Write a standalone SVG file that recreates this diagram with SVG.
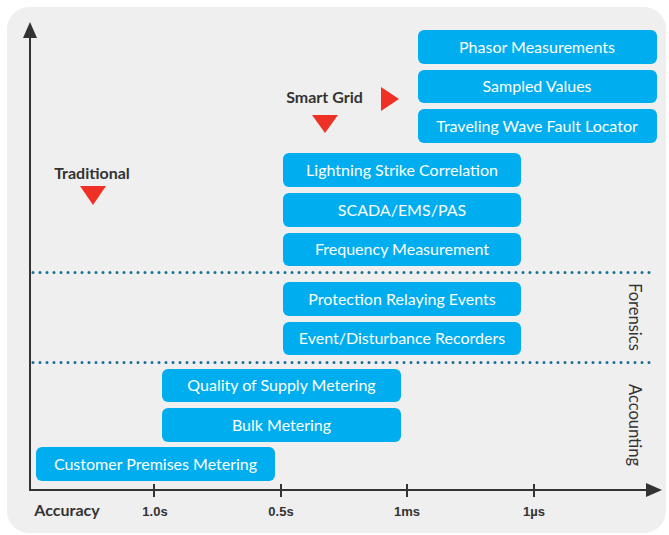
<svg xmlns="http://www.w3.org/2000/svg" width="669" height="535" viewBox="0 0 669 535">
<style>
.box{fill:#00aeef}
.bt{font-family:Lato,"Open Sans",sans-serif;font-size:16px;fill:#ffffff;text-anchor:middle}
.lbl{font-family:Lato,"Liberation Sans",sans-serif;font-weight:bold;fill:#333333;text-anchor:middle}
.tick{font-family:"Liberation Sans",Arial,sans-serif;font-weight:bold;font-size:13px;fill:#333333;text-anchor:middle}
.ax{stroke:#333333;stroke-width:2;fill:none}
.dot{stroke:#1a6e96;stroke-width:3;stroke-linecap:round;stroke-dasharray:0 7;fill:none}
.tri{fill:#ee3124}
.side{font-family:Lato,"Liberation Sans",sans-serif;font-size:16.5px;fill:#333333;text-anchor:middle}
</style>
<rect x="7" y="7" width="659" height="526" rx="22" fill="#efefef"/>
<g id="connectors">
<path class="ax" d="M30,490 V38"/>
<path d="M30,22 L37,38 L23,38 Z" fill="#333333"/>
<path class="ax" d="M29,490 H646"/>
<path d="M662,490 L646,483 L646,497 Z" fill="#333333"/>
<path class="ax" d="M154,484 V497 M281,484 V497 M407,484 V497 M534,484 V497"/>
<path class="dot" d="M33,272.5 H650"/>
<path class="dot" d="M33,362.5 H650"/>
</g>
<g id="axis-labels">
<text class="lbl" x="67" y="516" font-size="16">Accuracy</text>
<text class="tick" x="155" y="516">1.0s</text>
<text class="tick" x="281" y="516">0.5s</text>
<text class="tick" x="407" y="516">1ms</text>
<text class="tick" x="534" y="516">1µs</text>
</g>
<g id="traditional">
<text class="lbl" x="92" y="179" font-size="16">Traditional</text>
<path class="tri" d="M80,186 L106,186 L93,205 Z"/>
</g>
<g id="smart-grid">
<text class="lbl" x="324.5" y="103" font-size="16">Smart Grid</text>
<path class="tri" d="M312,115 L338,115 L325,133 Z"/>
<path class="tri" d="M381,87 L399,99 L381,111 Z"/>
</g>
<g id="n-phasor"><rect class="box" x="418" y="30" width="239" height="34" rx="6"/><text class="bt" x="537" y="52.5">Phasor Measurements</text></g>
<g id="n-sampled"><rect class="box" x="418" y="70" width="239" height="33" rx="6"/><text class="bt" x="537" y="92">Sampled Values</text></g>
<g id="n-traveling"><rect class="box" x="418" y="109" width="239" height="34" rx="6"/><text class="bt" x="537" y="131.5">Traveling Wave Fault Locator</text></g>
<g id="n-lightning"><rect class="box" x="283" y="153" width="238" height="34" rx="6"/><text class="bt" x="402" y="175.5">Lightning Strike Correlation</text></g>
<g id="n-scada"><rect class="box" x="283" y="193" width="238" height="34" rx="6"/><text class="bt" x="402" y="215.5">SCADA/EMS/PAS</text></g>
<g id="n-frequency"><rect class="box" x="283" y="233" width="238" height="33" rx="6"/><text class="bt" x="402" y="255">Frequency Measurement</text></g>
<g id="n-protection"><rect class="box" x="283" y="282" width="238" height="34" rx="6"/><text class="bt" x="402" y="304.5">Protection Relaying Events</text></g>
<g id="n-event"><rect class="box" x="283" y="322" width="238" height="33" rx="6"/><text class="bt" x="402" y="344">Event/Disturbance Recorders</text></g>
<g id="n-quality"><rect class="box" x="162" y="369" width="239" height="33" rx="6"/><text class="bt" x="281.5" y="391">Quality of Supply Metering</text></g>
<g id="n-bulk"><rect class="box" x="162" y="408" width="239" height="34" rx="6"/><text class="bt" x="281.5" y="430.5">Bulk Metering</text></g>
<g id="n-customer"><rect class="box" x="36" y="447" width="239" height="34" rx="6"/><text class="bt" x="155.5" y="469.5">Customer Premises Metering</text></g>
<g id="forensics"><text class="side" transform="translate(628.5,317) rotate(90)">Forensics</text></g>
<g id="accounting"><text class="side" transform="translate(628.5,425) rotate(90)">Accounting</text></g>
</svg>
